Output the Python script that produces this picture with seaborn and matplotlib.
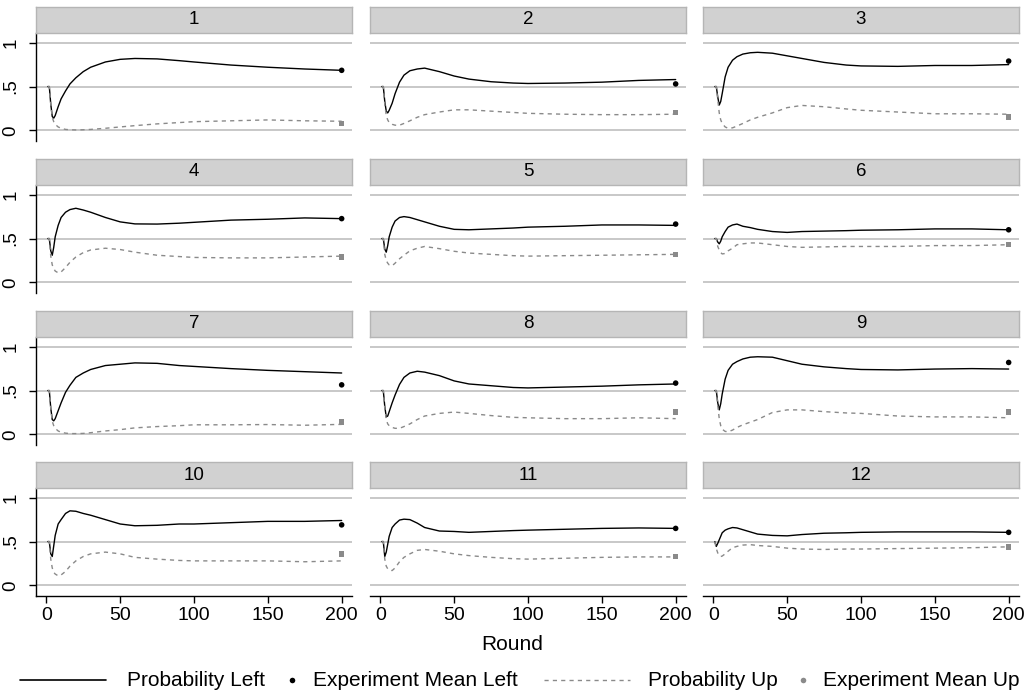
import numpy as np
import pandas as pd
import matplotlib
matplotlib.use("Agg")
import matplotlib.pyplot as plt
import seaborn as sns

# ---------------- data ----------------
panels = [1, 2, 3, 4, 5, 6, 7, 8, 9, 10, 11, 12]
rounds = [1, 2, 3, 4, 5, 6, 8, 10, 13, 16, 20, 25, 30, 40, 50, 60, 75, 90, 100, 125, 150, 175, 200]

left_1 = [.5, .5, .30, .16, .14, .17, .27, .36, .45, .53, .60, .67, .72, .78, .81, .82, .815, .795, .78, .745, .72, .70, .685]
up_1 = [.5, .5, .30, .15, .10, .07, .04, .025, .012, .008, .006, .008, .012, .025, .04, .055, .075, .09, .10, .11, .12, .11, .105]
left_2 = [.5, .5, .33, .22, .20, .23, .31, .42, .55, .63, .68, .70, .71, .67, .62, .585, .555, .54, .535, .54, .55, .57, .58]
up_2 = [.5, .5, .30, .17, .12, .09, .07, .06, .06, .08, .11, .15, .18, .21, .235, .235, .22, .205, .195, .185, .18, .18, .185]
left_3 = [.5, .5, .38, .29, .33, .42, .61, .72, .80, .84, .87, .885, .89, .88, .85, .82, .775, .745, .735, .73, .74, .74, .75]
up_3 = [.5, .5, .35, .20, .12, .08, .04, .025, .03, .05, .08, .12, .15, .20, .26, .285, .27, .245, .23, .21, .19, .19, .185]
left_4 = [.5, .5, .36, .31, .40, .52, .65, .74, .80, .83, .845, .825, .80, .74, .69, .667, .665, .675, .685, .71, .72, .735, .727]
up_4 = [.5, .5, .30, .20, .16, .13, .11, .12, .17, .23, .29, .34, .37, .39, .375, .345, .31, .295, .285, .28, .28, .29, .30]
left_5 = [.5, .5, .38, .345, .42, .52, .63, .70, .74, .75, .74, .715, .69, .64, .605, .60, .61, .62, .63, .64, .655, .655, .65]
up_5 = [.5, .5, .32, .25, .22, .20, .19, .22, .27, .31, .36, .39, .41, .385, .355, .335, .32, .305, .30, .305, .31, .315, .32]
left_6 = [.5, .5, .46, .44, .47, .52, .58, .63, .655, .665, .64, .625, .605, .58, .57, .58, .585, .59, .595, .60, .61, .61, .60]
up_6 = [.5, .5, .41, .37, .34, .325, .33, .36, .39, .43, .44, .45, .45, .43, .41, .40, .405, .41, .41, .41, .42, .42, .43]
left_7 = [.5, .5, .30, .17, .155, .18, .27, .36, .48, .56, .65, .70, .74, .785, .80, .815, .81, .785, .775, .75, .73, .715, .70]
up_7 = [.5, .5, .30, .15, .10, .07, .04, .025, .015, .01, .01, .012, .02, .04, .055, .075, .09, .10, .11, .11, .113, .105, .115]
left_8 = [.5, .5, .32, .20, .21, .26, .36, .45, .57, .65, .70, .72, .71, .67, .61, .575, .555, .535, .53, .54, .55, .565, .575]
up_8 = [.5, .5, .30, .17, .12, .10, .08, .07, .07, .09, .12, .17, .21, .24, .255, .24, .215, .195, .19, .18, .18, .19, .18]
left_9 = [.5, .5, .36, .28, .35, .46, .63, .73, .80, .83, .86, .88, .885, .88, .84, .80, .77, .75, .74, .735, .745, .75, .745]
up_9 = [.5, .5, .33, .18, .10, .06, .035, .03, .05, .08, .11, .14, .17, .25, .28, .28, .26, .245, .24, .21, .20, .20, .19]
left_10 = [.5, .5, .36, .33, .45, .57, .70, .75, .82, .85, .845, .82, .80, .75, .70, .68, .685, .70, .70, .715, .73, .73, .74]
up_10 = [.5, .5, .30, .20, .15, .13, .11, .12, .16, .22, .28, .33, .36, .38, .36, .32, .30, .285, .28, .28, .28, .27, .28]
left_11 = [.5, .5, .33, .38, .47, .56, .66, .70, .745, .755, .75, .71, .66, .62, .615, .605, .615, .625, .63, .64, .65, .655, .65]
up_11 = [.5, .5, .30, .22, .19, .175, .17, .20, .27, .32, .36, .40, .41, .39, .36, .34, .32, .305, .30, .31, .32, .325, .325]
left_12 = [.5, .445, .48, .52, .56, .60, .63, .645, .66, .655, .635, .61, .585, .57, .565, .58, .595, .60, .605, .61, .61, .61, .605]
up_12 = [.5, .42, .37, .34, .33, .335, .36, .39, .43, .445, .46, .465, .455, .445, .425, .415, .41, .415, .415, .42, .425, .43, .44]

mean_left = [.685, .53, .79, .727, .665, .60, .565, .585, .82, .69, .65, .605]
mean_up = [.08, .205, .155, .29, .32, .43, .145, .255, .255, .36, .33, .44]
mean_round = 200

x_ticks = [0, 50, 100, 150, 200]
y_ticks = [0, 0.5, 1]
y_tick_labels = ["0", ".5", "1"]

left_series = [left_1, left_2, left_3, left_4, left_5, left_6,
               left_7, left_8, left_9, left_10, left_11, left_12]
up_series = [up_1, up_2, up_3, up_4, up_5, up_6,
             up_7, up_8, up_9, up_10, up_11, up_12]

rows = []
for p, ls, us in zip(panels, left_series, up_series):
    for r, lv, uv in zip(rounds, ls, us):
        rows.append({"panel": p, "round": r, "left": lv, "up": uv})
df = pd.DataFrame(rows)
means = pd.DataFrame({"panel": panels, "round": mean_round,
                      "mean_left": mean_left, "mean_up": mean_up})

# ---------------- style ----------------
sns.set_theme(style="white")
plt.rcParams["font.family"] = ["Liberation Sans", "DejaVu Sans"]
plt.rcParams["text.color"] = "black"
plt.rcParams["xtick.color"] = "black"
plt.rcParams["ytick.color"] = "black"
plt.rcParams["xtick.labelcolor"] = "black"
plt.rcParams["ytick.labelcolor"] = "black"

W, H = 1030, 697
fig = plt.figure(figsize=(W / 100, H / 100), dpi=100)
fig.patch.set_facecolor("white")

col_left = [36, 370, 703]
ax_w = 316
row_top = [33, 185, 337, 488]
ax_h = 108
strip_h = 26

GRID = "#c4c4c4"
UPC = "#8a8a8a"

for i, p in enumerate(panels):
    r, c = divmod(i, 3)
    l = col_left[c]
    t = row_top[r]
    ax = fig.add_axes([l / W, 1 - (t + ax_h) / H, ax_w / W, ax_h / H])
    sub = df[df["panel"] == p]
    msub = means[means["panel"] == p]

    sns.lineplot(data=sub, x="round", y="left", ax=ax, color="black",
                 lw=1.0, estimator=None, zorder=3)
    sns.lineplot(data=sub, x="round", y="up", ax=ax, color=UPC,
                 lw=1.0, estimator=None, linestyle=(0, (3, 3)), zorder=3)
    sns.scatterplot(data=msub, x="round", y="mean_left", ax=ax, color="black",
                    s=16, marker="o", edgecolor="none", zorder=4)
    sns.scatterplot(data=msub, x="round", y="mean_up", ax=ax, color=UPC,
                    s=16, marker="s", edgecolor="none", zorder=4)

    ax.set_xlim(-7, 207)
    ax.set_ylim(-0.12, 1.11)
    ax.set_xlabel("")
    ax.set_ylabel("")
    ax.set_facecolor("white")
    ax.set_yticks(y_ticks)
    ax.set_xticks(x_ticks)
    ax.grid(axis="y", color=GRID, lw=1.3, zorder=0)
    ax.grid(axis="x", visible=False)
    for s in ["top", "right"]:
        ax.spines[s].set_visible(False)
    if c == 0:
        ax.spines["left"].set_color("black")
        ax.spines["left"].set_linewidth(1.0)
        ax.set_yticklabels(y_tick_labels, rotation=90, va="center", fontsize=13.5)
        ax.tick_params(axis="y", length=5, width=1, color="black", pad=7, left=True)
    else:
        ax.spines["left"].set_visible(False)
        ax.tick_params(axis="y", left=False, labelleft=False)
    if r == 3:
        ax.spines["bottom"].set_color("black")
        ax.spines["bottom"].set_linewidth(1.0)
        ax.tick_params(axis="x", length=5, width=1, color="black", pad=3,
                       bottom=True, labelsize=14)
    else:
        ax.spines["bottom"].set_visible(False)
        ax.tick_params(axis="x", bottom=False, labelbottom=False)

    # strip header
    sax = fig.add_axes([l / W, 1 - t / H, ax_w / W, strip_h / H])
    sax.set_facecolor("#d1d1d1")
    for s in sax.spines.values():
        s.set_color("#b5b5b5")
        s.set_linewidth(1)
    sax.set_xticks([])
    sax.set_yticks([])
    sax.text(0.5, 0.5, str(p), ha="center", va="center", fontsize=13.5,
             transform=sax.transAxes)

fig.text(512 / W, 1 - 645 / H, "Round", ha="center", va="center", fontsize=15)

# legend drawn in a pixel-coordinate overlay
lax = fig.add_axes([0, 0, 1, 1], zorder=-1)
lax.set_xlim(0, W)
lax.set_ylim(H, 0)
lax.axis("off")
ly = 680
fs = 15
lax.plot([20, 106], [ly, ly], color="black", lw=1.2)
lax.text(127, ly, "Probability Left", va="center", ha="left", fontsize=fs)
lax.plot([292], [ly], marker="o", color="black", ms=4, mec="none")
lax.text(313, ly, "Experiment Mean Left", va="center", ha="left", fontsize=fs)
lax.plot([544, 630], [ly, ly], color=UPC, lw=1.0, linestyle=(0, (3, 3)))
lax.text(648, ly, "Probability Up", va="center", ha="left", fontsize=fs)
lax.plot([803], [ly], marker="o", color=UPC, ms=4, mec="none")
lax.text(823, ly, "Experiment Mean Up", va="center", ha="left", fontsize=fs)

fig.savefig("out.png", dpi=100, facecolor="white")
